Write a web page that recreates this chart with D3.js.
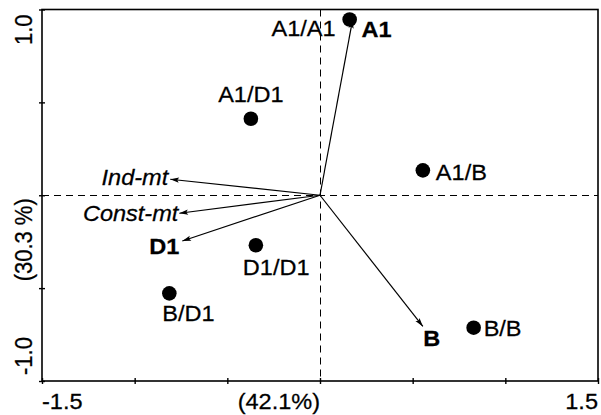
<!DOCTYPE html>
<html>
<head>
<meta charset="utf-8">
<script src="https://cdn.jsdelivr.net/npm/d3@7"></script>
<style>
  body { margin: 0; background: #fff; }
  svg { display: block; font-family: "Liberation Sans", Arial, sans-serif; }
</style>
</head>
<body>
<div id="graf"></div>
<script>
// Datos: muestras (puntos)
const sampleLabels = ["A1/A1", "A1/D1", "A1/B", "D1/D1", "B/D1", "B/B"];
const sampleX = [0.16, -0.373, 0.555, -0.346, -0.813, 0.829];
const sampleY = [0.946, 0.412, 0.134, -0.269, -0.528, -0.713];

// Datos: variables (flechas)
const varLabels = ["A1", "Ind-mt", "Const-mt", "D1", "B"];
const varX = [0.176, -0.808, -0.759, -0.743, 0.555];
const varY = [0.945, 0.086, -0.097, -0.246, -0.706];

// Ejes
const xTicks = [-1.5, -1.0, -0.5, 0, 0.5, 1.0, 1.5];
const yTicks = [-1.0, -0.5, 0, 0.5, 1.0];
const xTickLabels = ["-1.5", "(42.1%)", "1.5"];
const yTickLabels = ["-1.0", "(30.3 %)", "1.0"];

// Dimensiones
const anchoTotal = 601, altoTotal = 415;
const fs = 22, sx = 1.07;

const svg = d3.select("#graf").append("svg")
    .attr("width", anchoTotal)
    .attr("height", altoTotal);

const x = d3.scaleLinear().domain([-1.5, 1.5]).range([42, 598]);
const y = d3.scaleLinear().domain([-1, 1]).range([381, 9.5]);

// caja
svg.append("rect")
    .attr("x", x(-1.5)).attr("y", y(1))
    .attr("width", x(1.5) - x(-1.5)).attr("height", y(-1) - y(1))
    .attr("fill", "none").attr("stroke", "#000").attr("stroke-width", 1.6);

// lineas punteadas por el origen
const x0 = Math.round(x(0)) + 0.5, y0 = Math.round(y(0)) + 0.5;
svg.append("line")
    .attr("x1", x(-1.5)).attr("x2", x(1.5)).attr("y1", y0).attr("y2", y0)
    .attr("stroke", "#000").attr("stroke-width", 1).attr("stroke-dasharray", "7,5");
svg.append("line")
    .attr("x1", x0).attr("x2", x0).attr("y1", y(1)).attr("y2", y(-1))
    .attr("stroke", "#000").attr("stroke-width", 1).attr("stroke-dasharray", "7,5");

// Ejes (ticks cruzados)
const xAxis = svg.append("g").attr("transform", `translate(0, ${y(-1)})`)
    .call(d3.axisBottom(x).tickValues(xTicks).tickFormat("").tickSizeOuter(0));
xAxis.select(".domain").remove();
xAxis.selectAll(".tick line").attr("y1", -3).attr("y2", 3).attr("stroke-width", 1.4);

const yAxis = svg.append("g").attr("transform", `translate(${x(-1.5)}, 0)`)
    .call(d3.axisLeft(y).tickValues(yTicks).tickFormat("").tickSizeOuter(0));
yAxis.select(".domain").remove();
yAxis.selectAll(".tick line").attr("x1", -3).attr("x2", 3).attr("stroke-width", 1.4);

// texto con estiramiento horizontal
function txt(px, py, s, anchor, opts = {}) {
    const rot = opts.rotate ? " rotate(-90)" : "";
    return svg.append("text")
        .attr("transform", `translate(${px}, ${py}) scale(${sx}, 1)${rot}`)
        .attr("text-anchor", anchor)
        .attr("font-size", fs)
        .attr("font-weight", opts.bold ? "bold" : "normal")
        .attr("font-style", opts.italic ? "italic" : "normal")
        .attr("fill", "#000")
        .attr("stroke", "#000").attr("stroke-width", 0.25)
        .text(s);
}

// Etiquetas de ejes
const xLabY = 409;
txt(x(-1.5), xLabY, xTickLabels[0], "start");
txt(x(0), xLabY, xTickLabels[1], "end");
txt(x(1.5), xLabY, xTickLabels[2], "end");

const yLabX = 32;
txt(yLabX, y(-1) - 6, yTickLabels[0], "start", { rotate: true });
txt(yLabX, y(0) + 3, yTickLabels[1], "end", { rotate: true });
txt(yLabX, y(1) + 5, yTickLabels[2], "end", { rotate: true });

// Flechas
svg.append("defs").append("marker")
    .attr("id", "flecha")
    .attr("markerUnits", "userSpaceOnUse")
    .attr("viewBox", "0 -4 10 8")
    .attr("refX", 10).attr("refY", 0)
    .attr("markerWidth", 10).attr("markerHeight", 7)
    .attr("orient", "auto")
    .append("path").attr("d", "M0,-3L10,0L0,3L2,0Z").attr("fill", "#000");

const vars = varLabels.map((d, i) => ({ label: d, x: varX[i], y: varY[i] }));
svg.selectAll(".vec").data(vars).enter().append("line")
    .attr("class", "vec")
    .attr("x1", x(0)).attr("y1", y(0))
    .attr("x2", d => x(d.x)).attr("y2", d => y(d.y))
    .attr("stroke", "#000").attr("stroke-width", 1.2)
    .attr("marker-end", "url(#flecha)");

// colocacion de etiquetas de variables
const varPlace = {
    "A1": { dx: 9, dy: 17, anchor: "start", bold: true },
    "Ind-mt": { dx: -2, dy: 6, anchor: "end", italic: true },
    "Const-mt": { dx: -1, dy: 8, anchor: "end", italic: true },
    "D1": { dx: -3, dy: 13, anchor: "end", bold: true },
    "B": { dx: 9, dy: 20, anchor: "middle", bold: true },
};
vars.forEach(d => {
    const p = varPlace[d.label];
    txt(x(d.x) + p.dx, y(d.y) + p.dy, d.label, p.anchor, p);
});

// Puntos
const samples = sampleLabels.map((d, i) => ({ label: d, x: sampleX[i], y: sampleY[i] }));
svg.selectAll(".pt").data(samples).enter().append("circle")
    .attr("class", "pt")
    .attr("cx", d => x(d.x)).attr("cy", d => y(d.y))
    .attr("r", 7.3).attr("fill", "#000");

const samplePlace = {
    "A1/A1": { dx: -14, dy: 16, anchor: "end" },
    "A1/D1": { dx: 0, dy: -17, anchor: "middle" },
    "A1/B": { dx: 13, dy: 10, anchor: "start" },
    "D1/D1": { dx: -13, dy: 30, anchor: "start" },
    "B/D1": { dx: -7, dy: 28, anchor: "start" },
    "B/B": { dx: 10, dy: 8, anchor: "start" },
};
samples.forEach(d => {
    const p = samplePlace[d.label];
    txt(x(d.x) + p.dx, y(d.y) + p.dy, d.label, p.anchor);
});
</script>
</body>
</html>
